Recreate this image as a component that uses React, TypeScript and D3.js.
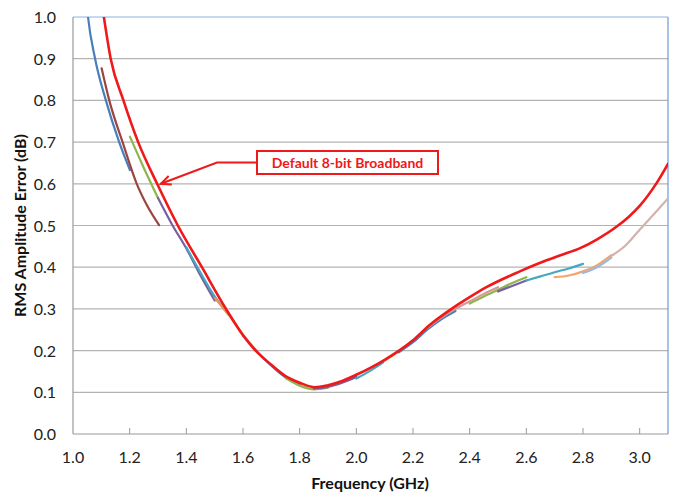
import React from "react";
import * as d3 from "d3";

type Pt = [number, number];

const xTicks = [1.0, 1.2, 1.4, 1.6, 1.8, 2.0, 2.2, 2.4, 2.6, 2.8, 3.0];
const yTicks = [0.0, 0.1, 0.2, 0.3, 0.4, 0.5, 0.6, 0.7, 0.8, 0.9, 1.0];

const defaultBroadband: Pt[] = [
  [1.098, 1.05], [1.109, 1.0], [1.133, 0.9], [1.178, 0.8], [1.23, 0.7], [1.297, 0.6],
  [1.37, 0.5], [1.455, 0.4], [1.54, 0.3], [1.6, 0.237], [1.642, 0.202], [1.7, 0.166],
  [1.75, 0.139], [1.8, 0.123], [1.854, 0.112], [1.9, 0.117], [1.95, 0.127], [2.0, 0.142],
  [2.1, 0.178], [2.2, 0.225], [2.26, 0.262], [2.336, 0.3], [2.4, 0.328], [2.459, 0.352],
  [2.577, 0.39], [2.647, 0.41], [2.718, 0.428], [2.788, 0.445], [2.85, 0.467],
  [2.918, 0.497], [2.96, 0.52], [3.0, 0.547], [3.059, 0.601], [3.1, 0.648],
];

const subBands: { color: string; pts: Pt[] }[] = [
  { color: "#4A7EBB", pts: [[1.05, 1.02], [1.053, 1.0], [1.078, 0.9], [1.116, 0.8], [1.163, 0.7], [1.201, 0.633]] },
  { color: "#9B4541", pts: [[1.101, 0.877], [1.128, 0.8], [1.175, 0.7], [1.225, 0.6], [1.26, 0.55], [1.304, 0.501]] },
  { color: "#8FB54F", pts: [[1.201, 0.713], [1.25, 0.638], [1.3, 0.566]] },
  { color: "#7A5EA0", pts: [[1.3, 0.566], [1.35, 0.502], [1.4, 0.445], [1.45, 0.38], [1.5, 0.32]] },
  { color: "#45A8C2", pts: [[1.4, 0.448], [1.45, 0.387], [1.5, 0.33], [1.55, 0.285]] },
  { color: "#F0924A", pts: [[1.5, 0.326], [1.55, 0.286], [1.6, 0.238], [1.65, 0.198]] },
  { color: "#4A7EBB", pts: [[1.6, 0.236], [1.65, 0.197], [1.7, 0.164], [1.75, 0.136], [1.8, 0.119]] },
  { color: "#8FB54F", pts: [[1.75, 0.134], [1.8, 0.116], [1.85, 0.107], [1.9, 0.111]] },
  { color: "#7A5EA0", pts: [[1.85, 0.109], [1.9, 0.113], [1.95, 0.123], [2.0, 0.137]] },
  { color: "#45A8C2", pts: [[2.0, 0.133], [2.05, 0.152], [2.095, 0.172]] },
  { color: "#F0924A", pts: [[2.1, 0.176], [2.15, 0.198], [2.2, 0.222]] },
  { color: "#4A7EBB", pts: [[2.15, 0.196], [2.2, 0.22], [2.25, 0.25], [2.3, 0.275], [2.35, 0.295]] },
  { color: "#D99694", pts: [[2.25, 0.254], [2.3, 0.279], [2.35, 0.3], [2.4, 0.318], [2.45, 0.336], [2.5, 0.352]] },
  { color: "#8FB54F", pts: [[2.4, 0.313], [2.45, 0.33], [2.5, 0.346], [2.55, 0.362], [2.6, 0.376]] },
  { color: "#7A5EA0", pts: [[2.5, 0.342], [2.55, 0.355], [2.6, 0.368]] },
  { color: "#45A8C2", pts: [[2.6, 0.368], [2.65, 0.378], [2.7, 0.388], [2.75, 0.397], [2.8, 0.408]] },
  { color: "#F4A46C", pts: [[2.7, 0.376], [2.75, 0.38], [2.8, 0.39], [2.85, 0.405], [2.9, 0.429]] },
  { color: "#9DB9DC", pts: [[2.8, 0.386], [2.85, 0.4], [2.9, 0.423]] },
  { color: "#D5B1AE", pts: [[2.9, 0.427], [2.95, 0.452], [3.0, 0.49], [3.05, 0.527], [3.1, 0.565]] },
];

const annotationLabel = "Default 8-bit Broadband";
const annotationTarget: Pt = [1.31, 0.6];

const W = 677;
const H = 493;
const M = { left: 73, right: 668, top: 17, bottom: 434 };

export default function App() {
  const x = d3.scaleLinear().domain([1.0, 3.1]).range([M.left, M.right]);
  const y = d3.scaleLinear().domain([0, 1]).range([M.bottom, M.top]);
  const line = d3
    .line<Pt>()
    .x((d) => x(d[0]))
    .y((d) => y(d[1]))
    .curve(d3.curveMonotoneX);

  const font = "Lato, 'Open Sans', sans-serif";
  const tipX = x(annotationTarget[0]);
  const tipY = y(annotationTarget[1]);
  const boxX = 257, boxY = 151, boxW = 181, boxH = 23;
  const elbowX = 217, midY = boxY + boxH / 2;
  const ang = Math.atan2(midY - tipY, elbowX - tipX);
  const ah = 11, aw = 0.42;
  const a1: Pt = [tipX + ah * Math.cos(ang + aw), tipY + ah * Math.sin(ang + aw)];
  const a2: Pt = [tipX + ah * Math.cos(ang - aw), tipY + ah * Math.sin(ang - aw)];

  return (
    <svg
      width={W}
      height={H}
      style={{ position: "absolute", left: 0, top: 0, background: "#fff" }}
      fontFamily={font}
    >
      <defs>
        <clipPath id="plot">
          <rect x={M.left} y={M.top} width={M.right - M.left} height={M.bottom - M.top} />
        </clipPath>
      </defs>
      {yTicks.slice(1, -1).map((t) => (
        <line key={t} x1={M.left} x2={M.right} y1={y(t)} y2={y(t)} stroke="#B3B3B3" strokeWidth={1.2} />
      ))}
      <line x1={M.left} x2={M.right} y1={M.top} y2={M.top} stroke="#8EB4E3" strokeWidth={1.2} />
      <line x1={M.right} x2={M.right} y1={M.top} y2={M.bottom} stroke="#6E9BD6" strokeWidth={1.2} />
      <line x1={M.left} x2={M.left} y1={M.top} y2={M.bottom} stroke="#9A9A9A" strokeWidth={1.2} />
      <line x1={M.left} x2={M.right} y1={M.bottom} y2={M.bottom} stroke="#9A9A9A" strokeWidth={1.2} />
      {xTicks.slice(1).map((t) => (
        <line key={t} x1={x(t)} x2={x(t)} y1={M.bottom} y2={M.bottom - 6} stroke="#9A9A9A" strokeWidth={1} />
      ))}
      {yTicks.map((t) => (
        <text key={t} x={56} y={y(t) + 6} textAnchor="end" fontSize={16} fill="#222">
          {t.toFixed(1)}
        </text>
      ))}
      {xTicks.map((t) => (
        <text key={t} x={x(t)} y={463} textAnchor="middle" fontSize={16} fill="#222">
          {t.toFixed(1)}
        </text>
      ))}
      <text x={370} y={489} textAnchor="middle" fontSize={16} fontWeight="bold" fill="#111">
        Frequency (GHz)
      </text>
      <text
        transform={`translate(26, ${(M.top + M.bottom) / 2}) rotate(-90)`}
        textAnchor="middle"
        fontSize={16}
        fontWeight="bold"
        fill="#111"
      >
        RMS Amplitude Error (dB)
      </text>
      <g clipPath="url(#plot)" fill="none" strokeLinejoin="round" strokeLinecap="round">
        {subBands.map((s, i) => (
          <path key={i} d={line(s.pts) || ""} stroke={s.color} strokeWidth={2.2} />
        ))}
        <path d={line(defaultBroadband) || ""} stroke="#F01818" strokeWidth={2.6} />
      </g>
      <g stroke="#F01818" strokeWidth={2} fill="none">
        <polyline points={`${boxX},${midY} ${elbowX},${midY} ${tipX},${tipY}`} />
        <polyline points={`${a1[0]},${a1[1]} ${tipX},${tipY} ${a2[0]},${a2[1]}`} />
        <rect x={boxX} y={boxY} width={boxW} height={boxH} fill="#fff" />
      </g>
      <text x={boxX + boxW / 2} y={boxY + 16.5} textAnchor="middle" fontSize={14} fontWeight="bold" fill="#F01818">
        {annotationLabel}
      </text>
    </svg>
  );
}
